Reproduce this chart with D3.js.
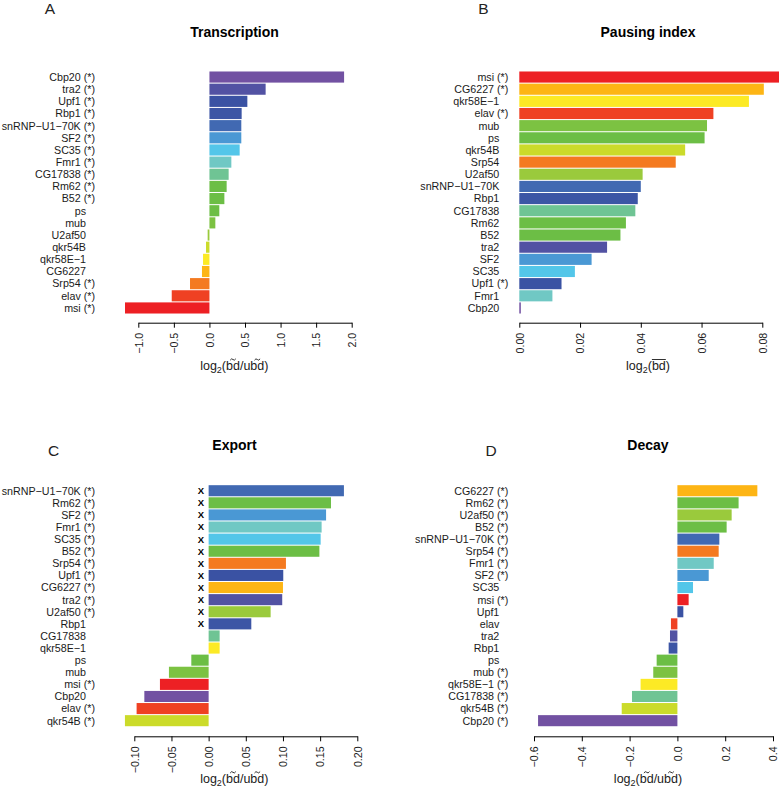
<!DOCTYPE html>
<html>
<head>
<meta charset="utf-8">
<script src="https://cdn.jsdelivr.net/npm/d3@7"></script>
<style>
  html, body { margin: 0; padding: 0; background: #fff; }
  svg { display: block; }
  text { font-family: "Liberation Sans", Arial, Helvetica, sans-serif; }
</style>
</head>
<body>
<svg id="chart" width="781" height="788"></svg>
<script>
// ---------------- DATA ----------------
const transcriptionGenes = ["Cbp20","tra2","Upf1","Rbp1","snRNP-U1-70K","SF2","SC35","Fmr1","CG17838","Rm62","B52","ps","mub","U2af50","qkr54B","qkr58E-1","CG6227","Srp54","elav","msi"];
const transcriptionValues = [1.893,0.79,0.533,0.453,0.448,0.448,0.425,0.308,0.27,0.242,0.21,0.139,0.083,-0.025,-0.048,-0.09,-0.105,-0.273,-0.53,-1.187];
const transcriptionSig = [1,1,1,1,1,1,1,1,1,1,1,0,0,0,0,0,0,1,1,1];
const transcriptionTicks = [-1.0,-0.5,0.0,0.5,1.0,1.5,2.0];

const pausingGenes = ["msi","CG6227","qkr58E-1","elav","mub","ps","qkr54B","Srp54","U2af50","snRNP-U1-70K","Rbp1","CG17838","Rm62","B52","tra2","SF2","SC35","Upf1","Fmr1","Cbp20"];
const pausingValues = [0.0855,0.0805,0.0756,0.0639,0.0618,0.061,0.0546,0.0515,0.0406,0.040,0.039,0.0382,0.0351,0.0333,0.0289,0.0238,0.0183,0.0139,0.0109,0.0005];
const pausingSig = [1,1,0,1,0,0,0,0,0,0,0,0,0,0,0,0,0,1,0,0];
const pausingTicks = [0.00,0.02,0.04,0.06,0.08];

const exportGenes = ["snRNP-U1-70K","Rm62","SF2","Fmr1","SC35","B52","Srp54","Upf1","CG6227","tra2","U2af50","Rbp1","CG17838","qkr58E-1","ps","mub","msi","Cbp20","elav","qkr54B"];
const exportValues = [0.182,0.1646,0.158,0.152,0.1507,0.149,0.104,0.1004,0.100,0.099,0.0834,0.0574,0.0148,0.0148,-0.0233,-0.0534,-0.0655,-0.0865,-0.0969,-0.1126];
const exportSig = [1,1,1,1,1,1,1,1,1,1,1,0,0,0,0,0,1,0,1,1];
const exportMarked = [1,1,1,1,1,1,1,1,1,1,1,1,0,0,0,0,0,0,0,0];
const exportTicks = [-0.10,-0.05,0.00,0.05,0.10,0.15,0.20];

const decayGenes = ["CG6227","Rm62","U2af50","B52","snRNP-U1-70K","Srp54","Fmr1","SF2","SC35","msi","Upf1","elav","tra2","Rbp1","ps","mub","qkr58E-1","CG17838","qkr54B","Cbp20"];
const decayValues = [0.3345,0.256,0.227,0.206,0.1755,0.1727,0.152,0.131,0.0653,0.047,0.0248,-0.027,-0.031,-0.0366,-0.0868,-0.101,-0.154,-0.19,-0.233,-0.583];
const decaySig = [1,1,1,1,1,1,1,1,0,1,0,0,0,0,0,1,1,1,1,1];
const decayTicks = [-0.6,-0.4,-0.2,0.0,0.2,0.4];

const paletteGenes = ["Cbp20","tra2","Upf1","Rbp1","snRNP-U1-70K","SF2","SC35","Fmr1","CG17838","Rm62","B52","ps","mub","U2af50","qkr54B","qkr58E-1","CG6227","Srp54","elav","msi"];
const paletteColors = ["#7251A2","#5252A3","#3A52A3","#3C55A5","#4169B2","#4A98D4","#53C6E9","#70C8C4","#6FC494","#6CBE45","#6CBE45","#6CBE45","#7CC242","#9ACA3C","#CBDB2A","#FCEA25","#FDB515","#F47A20","#EF4123","#ED2024"];

// ---------------- LAYOUT ----------------
const color = d3.scaleOrdinal().domain(paletteGenes).range(paletteColors);
const svg = d3.select("#chart");

const panels = [
  { letter:"A", title:"Transcription", genes:transcriptionGenes, values:transcriptionValues, sig:transcriptionSig, ticks:transcriptionTicks, fmt:".1f",
    x0:138.3, x1:351.7, yTop:71, yBot:314, axisY:322.7, labelX:95, titleX:234.5, titleY:36.5, letterX:50, letterY:14.2, xlabX:234.3, xlabY:370, xlab:"tilde" },
  { letter:"B", title:"Pausing index", genes:pausingGenes, values:pausingValues, sig:pausingSig, ticks:pausingTicks, fmt:".2f",
    x0:519.3, x1:762.3, yTop:71, yBot:314, axisY:322.7, labelX:508.3, titleX:648, titleY:36.5, letterX:483.5, letterY:14.2, xlabX:648, xlabY:370, xlab:"bar" },
  { letter:"C", title:"Export", genes:exportGenes, values:exportValues, sig:exportSig, ticks:exportTicks, fmt:".2f", marked:exportMarked, markX:201,
    x0:134.3, x1:357.3, yTop:484.7, yBot:726.7, axisY:736.3, labelX:95, titleX:234.5, titleY:449.7, letterX:53.5, letterY:455.7, xlabX:234.3, xlabY:782.8, xlab:"tilde" },
  { letter:"D", title:"Decay", genes:decayGenes, values:decayValues, sig:decaySig, ticks:decayTicks, fmt:".1f",
    x0:534, x1:773, yTop:484.7, yBot:726.7, axisY:736.3, labelX:508.3, titleX:648, titleY:449.7, letterX:491, letterY:455.7, xlabX:648, xlabY:782.8, xlab:"tilde" }
];

panels.forEach(p => {
  const g = svg.append("g");
  const ticks = p.ticks;
  const x = d3.scaleLinear().domain([ticks[0], ticks[ticks.length-1]]).range([p.x0, p.x1]);
  const y = d3.scaleBand().domain(p.genes).range([p.yTop, p.yBot]).paddingInner(0.085).paddingOuter(0.04);
  const rows = p.genes.map((gene, i) => ({ gene, value: p.values[i], sig: p.sig[i], mark: p.marked ? p.marked[i] : 0 }));

  // bars
  g.selectAll("rect.bar").data(rows).join("rect")
    .attr("class","bar")
    .attr("x", d => Math.min(x(0), x(d.value)))
    .attr("width", d => Math.max(0.8, Math.abs(x(d.value) - x(0))))
    .attr("y", d => y(d.gene))
    .attr("height", y.bandwidth())
    .attr("fill", d => color(d.gene));

  // gene labels
  g.selectAll("text.lab").data(rows).join("text")
    .attr("class","lab")
    .attr("x", d => d.sig ? p.labelX : p.labelX - 9)
    .attr("y", d => y(d.gene) + y.bandwidth()/2)
    .attr("dy","0.36em")
    .attr("text-anchor","end")
    .attr("font-size", 10.7)
    .attr("fill","#1a1a1a")
    .text(d => d.gene.replace(/-/g, "\u2212") + (d.sig ? " (*)" : ""));

  // X marks
  if (p.marked) {
    g.selectAll("text.mark").data(rows.filter(d => d.mark)).join("text")
      .attr("class","mark")
      .attr("x", p.markX)
      .attr("y", d => y(d.gene) + y.bandwidth()/2)
      .attr("dy","0.36em")
      .attr("text-anchor","middle")
      .attr("font-size", 9.5)
      .attr("font-weight","bold")
      .text("X");
  }

  // x axis
  const axis = d3.axisBottom(x).tickValues(ticks).tickSize(5).tickSizeOuter(0).tickFormat(d3.format(p.fmt));
  const ag = g.append("g").attr("transform", `translate(0,${p.axisY})`).call(axis);
  ag.select(".domain").attr("stroke","#000").attr("stroke-width",1);
  ag.selectAll(".tick line").attr("stroke","#000");
  ag.selectAll(".tick text")
    .attr("font-family", '"Liberation Sans", Arial, sans-serif')
    .attr("font-size", 10.7)
    .attr("fill","#1a1a1a")
    .attr("text-anchor","end")
    .attr("transform","rotate(-90)")
    .attr("x", -10)
    .attr("y", 0)
    .attr("dy","0.36em");

  // title
  g.append("text").attr("x", p.titleX).attr("y", p.titleY).attr("text-anchor","middle")
    .attr("font-size", 14).attr("font-weight","bold").text(p.title);

  // panel letter
  g.append("text").attr("x", p.letterX).attr("y", p.letterY).attr("text-anchor","middle")
    .attr("font-size", 15.5).attr("fill","#222")
    .text(p.letter);

  // x-axis label
  const t = g.append("text").attr("x", p.xlabX).attr("y", p.xlabY).attr("text-anchor","middle")
    .attr("font-size", 12.5).attr("fill","#1a1a1a");
  t.append("tspan").text("log");
  t.append("tspan").attr("font-size", 9).attr("dy", 3).text("2");
  t.append("tspan").attr("dy", -3).text(p.xlab === "bar" ? "(bd)" : "(bd/ubd)");
  const node = t.node();
  const ty = p.xlabY - 10.5;
  const spanOf = (i0, i1) => [node.getStartPositionOfChar(i0).x, node.getEndPositionOfChar(i1).x];
  if (p.xlab === "bar") {
    const [a, b] = spanOf(5, 6);
    g.append("line").attr("x1", a).attr("x2", b).attr("y1", ty).attr("y2", ty)
      .attr("stroke","#1a1a1a").attr("stroke-width", 0.9);
  } else {
    [[5,6],[9,10]].forEach(([i0,i1]) => {
      const [a, b] = spanOf(i0, i1);
      const cx = (a + b) / 2;
      g.append("path")
        .attr("d", `M${cx-2.8},${ty+0.7} Q${cx-1.4},${ty-1.6} ${cx},${ty} T${cx+2.8},${ty-0.7}`)
        .attr("fill","none").attr("stroke","#1a1a1a").attr("stroke-width", 0.9);
    });
  }
});
</script>
</body>
</html>
